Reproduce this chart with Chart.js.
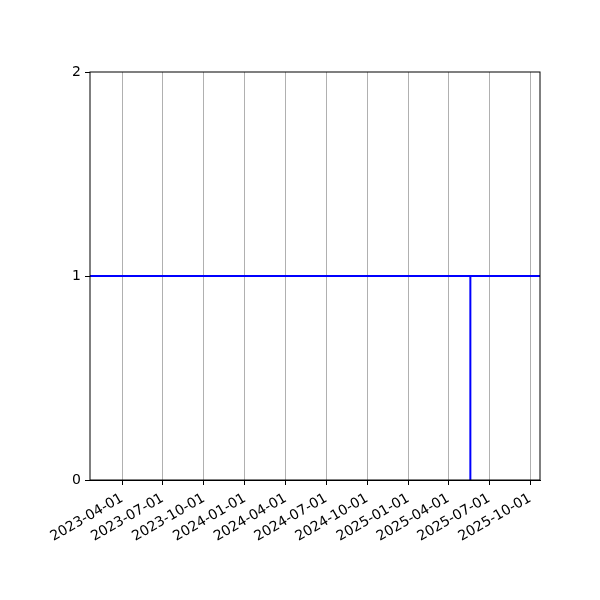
<!DOCTYPE html>
<html>
<head>
<meta charset="utf-8">
<script src="https://cdn.jsdelivr.net/npm/chart.js@4"></script>
<style>
  html, body { margin: 0; padding: 0; background: #fff; }
  #wrap { width: 600px; height: 600px; }
</style>
</head>
<body>
<div id="wrap"><canvas id="chart" width="600" height="600"></canvas></div>
<script>
// series
const dates  = ["2023-01-19", "2025-05-20", "2025-05-20", "2025-05-20", "2025-10-23"];
const values = [1, 1, 0, 1, 1];

// axes
const xTickLabels = ["2023-04-01", "2023-07-01", "2023-10-01", "2024-01-01", "2024-04-01",
                     "2024-07-01", "2024-10-01", "2025-01-01", "2025-04-01", "2025-07-01", "2025-10-01"];
const yTicks = [0, 1, 2];

const FONT = { family: "'DejaVu Sans', sans-serif", size: 14 };

const frame = {
  id: "frame",
  afterDraw(chart) {
    const { ctx, chartArea: a } = chart;
    ctx.save();
    ctx.strokeStyle = "#000";
    ctx.lineWidth = 1;
    ctx.strokeRect(a.left, a.top, a.right - a.left, a.bottom - a.top);
    ctx.restore();
  }
};

new Chart(document.getElementById("chart"), {
  type: "line",
  data: {
    datasets: [{
      data: dates.map((d, i) => ({ x: Date.parse(d), y: values[i] })),
      borderColor: "#0000ff",
      borderWidth: 2,
      pointRadius: 0,
      tension: 0,
      fill: false
    }]
  },
  options: {
    responsive: false,
    animation: false,
    devicePixelRatio: 1,
    layout: { padding: { left: 0, right: 60, top: 72, bottom: 0 } },
    plugins: { legend: { display: false }, tooltip: { enabled: false } },
    scales: {
      x: {
        type: "linear",
        min: Date.parse(dates[0]),
        max: Date.parse(dates[dates.length - 1]),
        afterBuildTicks: s => { s.ticks = xTickLabels.map(t => ({ value: Date.parse(t) })); },
        afterFit: s => { s.height = 120; },
        ticks: {
          color: "#000",
          font: FONT,
          minRotation: 30,
          maxRotation: 30,
          autoSkip: false,
          padding: 5,
          callback: v => new Date(v).toISOString().slice(0, 10)
        },
        grid: { color: "#b0b0b0", lineWidth: 1, tickColor: "#000", tickLength: 5 },
        border: { color: "#000", width: 1 }
      },
      y: {
        min: 0,
        max: 2,
        afterBuildTicks: s => { s.ticks = yTicks.map(v => ({ value: v })); },
        afterFit: s => { s.width = 90; },
        ticks: { color: "#000", font: FONT, padding: 4 },
        grid: { drawOnChartArea: false, tickColor: "#000", tickLength: 5 },
        border: { display: false }
      }
    }
  },
  plugins: [frame]
});
</script>
</body>
</html>
